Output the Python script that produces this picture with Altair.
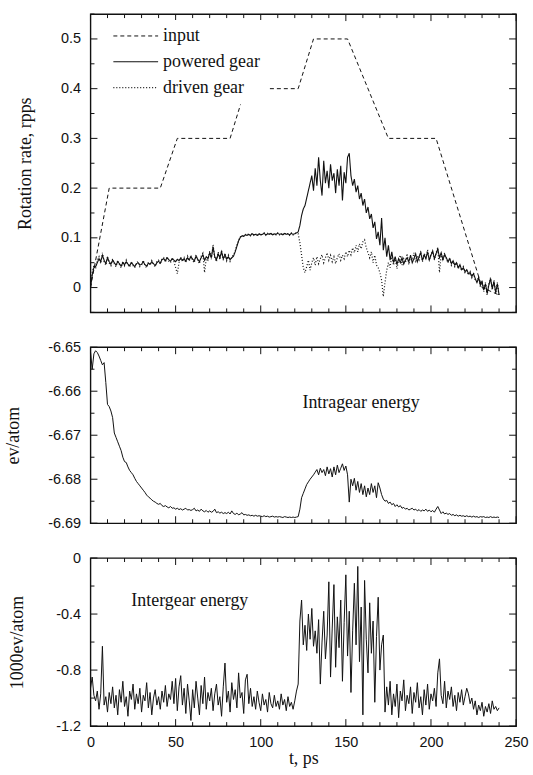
import altair as alt
import pandas as pd

# ---------------- data ----------------
t_ps = list(range(0, 241))

input_t = [0, 11, 41, 51, 82, 91, 122, 131, 151, 175, 203, 230, 240]
input_rate = [0.0, 0.2, 0.2, 0.3, 0.3, 0.4, 0.4, 0.5, 0.5, 0.3, 0.3, 0.0, -0.015]

powered_rate = [
    0.000, 0.025, 0.040, 0.042, 0.050, 0.058, 0.052, 0.065, 0.055, 0.048,
    0.060, 0.052, 0.047, 0.055, 0.050, 0.045, 0.052, 0.048, 0.043, 0.050,
    0.046, 0.052, 0.047, 0.044, 0.050, 0.046, 0.042, 0.048, 0.050, 0.045,
    0.047, 0.052, 0.046, 0.043, 0.049, 0.047, 0.052, 0.048, 0.044, 0.050,
    0.053, 0.049, 0.056, 0.058, 0.054, 0.060, 0.056, 0.053, 0.058, 0.055,
    0.052, 0.057, 0.054, 0.059, 0.055, 0.058, 0.053, 0.060, 0.056, 0.062,
    0.057, 0.054, 0.063, 0.057, 0.052, 0.060, 0.066, 0.055, 0.062, 0.058,
    0.070, 0.060, 0.082, 0.062, 0.056, 0.068, 0.060, 0.072, 0.058, 0.066,
    0.057, 0.062, 0.056, 0.060, 0.063, 0.072, 0.083, 0.094, 0.101, 0.104,
    0.103, 0.106, 0.105, 0.107, 0.105, 0.108, 0.106, 0.107, 0.105, 0.108,
    0.106, 0.107, 0.109, 0.106, 0.108, 0.107, 0.109, 0.106, 0.108, 0.107,
    0.109, 0.107, 0.108, 0.106, 0.109, 0.107, 0.108, 0.106, 0.109, 0.107,
    0.108, 0.110, 0.112, 0.125, 0.145, 0.158, 0.165, 0.180, 0.195, 0.210,
    0.225, 0.195, 0.240, 0.205, 0.262, 0.215, 0.185, 0.255, 0.210, 0.235,
    0.200, 0.248, 0.215, 0.230, 0.190, 0.238, 0.205, 0.245, 0.175, 0.232,
    0.210, 0.262, 0.270, 0.225, 0.205, 0.218, 0.192, 0.205, 0.178, 0.190,
    0.165, 0.178, 0.150, 0.162, 0.138, 0.148, 0.120, 0.132, 0.098, 0.112,
    0.085, 0.140, 0.075, 0.100, 0.062, 0.085, 0.055, 0.072, 0.050, 0.062,
    0.046, 0.058, 0.050, 0.060, 0.047, 0.055, 0.060, 0.052, 0.065, 0.050,
    0.058, 0.068, 0.052, 0.062, 0.070, 0.054, 0.066, 0.058, 0.072, 0.055,
    0.065, 0.074, 0.058, 0.068, 0.078, 0.060, 0.070, 0.056, 0.066, 0.060,
    0.052, 0.058, 0.048, 0.054, 0.045, 0.050, 0.040, 0.046, 0.036, 0.040,
    0.032, 0.036, 0.028, 0.030, 0.022, 0.028, 0.018, 0.010, 0.020, 0.005,
    0.012, -0.005, 0.008, -0.012, 0.005, 0.018, -0.002, 0.012, -0.010, 0.008,
    -0.015,
]

driven_rate = [
    0.000, 0.030, 0.045, 0.038, 0.055, 0.062, 0.048, 0.070, 0.052, 0.045,
    0.063, 0.049, 0.044, 0.058, 0.047, 0.042, 0.055, 0.046, 0.040, 0.053,
    0.044, 0.055, 0.045, 0.041, 0.052, 0.044, 0.040, 0.050, 0.052, 0.042,
    0.045, 0.055, 0.044, 0.040, 0.051, 0.045, 0.054, 0.046, 0.042, 0.052,
    0.055, 0.047, 0.058, 0.060, 0.051, 0.062, 0.053, 0.050, 0.060, 0.052,
    0.040, 0.028, 0.050, 0.061, 0.052, 0.060, 0.050, 0.063, 0.053, 0.065,
    0.054, 0.050, 0.066, 0.054, 0.048, 0.063, 0.069, 0.030, 0.058, 0.055,
    0.073, 0.057, 0.086, 0.059, 0.052, 0.071, 0.056, 0.075, 0.055, 0.069,
    0.054, 0.065, 0.053, 0.062, 0.065, 0.074, 0.085, 0.095, 0.102, 0.105,
    0.104, 0.107, 0.106, 0.108, 0.104, 0.109, 0.105, 0.108, 0.104, 0.109,
    0.105, 0.108, 0.110, 0.105, 0.109, 0.106, 0.110, 0.105, 0.109, 0.106,
    0.110, 0.106, 0.109, 0.105, 0.110, 0.106, 0.109, 0.105, 0.110, 0.106,
    0.109, 0.110, 0.108, 0.090, 0.065, 0.040, 0.030, 0.042, 0.055, 0.035,
    0.050, 0.060, 0.045, 0.062, 0.048, 0.058, 0.066, 0.050, 0.060, 0.070,
    0.055, 0.065, 0.052, 0.062, 0.048, 0.060, 0.068, 0.055, 0.065, 0.058,
    0.072, 0.062, 0.075, 0.066, 0.080, 0.070, 0.085, 0.072, 0.088, 0.078,
    0.092, 0.096, 0.080, 0.070, 0.060, 0.072, 0.050, 0.065, 0.045, 0.040,
    0.030, 0.015, -0.018, 0.010, 0.035, 0.050, 0.040, 0.065, 0.045, 0.060,
    0.038, 0.055, 0.065, 0.045, 0.058, 0.050, 0.068, 0.046, 0.062, 0.055,
    0.070, 0.050, 0.064, 0.056, 0.074, 0.052, 0.068, 0.060, 0.076, 0.055,
    0.068, 0.072, 0.056, 0.070, 0.080, 0.030, 0.068, 0.054, 0.070, 0.058,
    0.050, 0.060, 0.045, 0.052, 0.042, 0.050, 0.038, 0.044, 0.034, 0.042,
    0.030, 0.034, 0.025, 0.032, 0.020, 0.030, 0.015, 0.012, 0.022, 0.002,
    0.014, -0.008, 0.010, -0.015, 0.008, 0.020, -0.005, 0.015, -0.012, 0.010,
    -0.018,
]

intragear_ev = [
    -6.6510, -6.6550, -6.6515, -6.6508, -6.6512, -6.6520, -6.6530, -6.6540, -6.6535, -6.6580,
    -6.6630, -6.6635, -6.6645, -6.6660, -6.6695, -6.6705, -6.6715, -6.6725, -6.6735, -6.6750,
    -6.6760, -6.6762, -6.6772, -6.6780, -6.6785, -6.6790, -6.6798, -6.6805, -6.6810, -6.6815,
    -6.6820, -6.6825, -6.6830, -6.6836, -6.6840, -6.6843, -6.6847, -6.6850, -6.6852, -6.6855,
    -6.6857, -6.6855, -6.6860, -6.6862, -6.6860, -6.6863, -6.6865, -6.6862, -6.6866, -6.6865,
    -6.6868, -6.6866, -6.6869, -6.6867, -6.6870, -6.6868, -6.6866, -6.6870, -6.6869, -6.6871,
    -6.6869, -6.6866, -6.6872, -6.6870, -6.6873, -6.6868, -6.6872, -6.6874, -6.6871, -6.6875,
    -6.6872, -6.6875, -6.6873, -6.6868, -6.6876, -6.6874, -6.6877, -6.6875, -6.6878, -6.6876,
    -6.6878, -6.6875, -6.6879, -6.6872, -6.6878, -6.6880, -6.6877, -6.6881, -6.6879, -6.6876,
    -6.6881, -6.6880, -6.6882, -6.6881, -6.6883, -6.6882, -6.6884, -6.6882, -6.6884, -6.6883,
    -6.6884, -6.6885, -6.6883, -6.6885, -6.6884, -6.6886, -6.6885, -6.6884, -6.6886, -6.6885,
    -6.6886, -6.6885, -6.6886, -6.6887, -6.6885, -6.6886, -6.6887, -6.6886, -6.6887, -6.6886,
    -6.6887, -6.6886, -6.6885, -6.6868, -6.6842, -6.6832, -6.6822, -6.6812, -6.6806, -6.6800,
    -6.6795, -6.6790, -6.6784, -6.6778, -6.6790, -6.6775, -6.6785, -6.6778, -6.6792, -6.6772,
    -6.6788, -6.6776, -6.6795, -6.6772, -6.6790, -6.6768, -6.6785, -6.6775, -6.6765, -6.6780,
    -6.6770, -6.6790, -6.6852, -6.6800, -6.6815, -6.6798, -6.6825, -6.6805, -6.6830, -6.6810,
    -6.6835, -6.6815, -6.6840, -6.6820, -6.6835, -6.6810, -6.6830, -6.6815, -6.6842, -6.6808,
    -6.6820, -6.6835, -6.6845, -6.6850, -6.6848, -6.6855, -6.6852, -6.6858, -6.6855, -6.6862,
    -6.6858, -6.6863, -6.6860, -6.6866, -6.6864, -6.6868, -6.6866, -6.6870, -6.6868, -6.6866,
    -6.6870, -6.6868, -6.6872, -6.6869, -6.6873, -6.6870, -6.6872, -6.6868, -6.6873, -6.6870,
    -6.6874, -6.6871, -6.6875, -6.6868, -6.6862, -6.6870, -6.6878, -6.6874, -6.6879, -6.6877,
    -6.6880, -6.6878, -6.6882, -6.6880, -6.6883, -6.6881, -6.6884, -6.6882, -6.6884, -6.6883,
    -6.6885, -6.6883, -6.6885, -6.6884, -6.6886, -6.6884, -6.6886, -6.6885, -6.6887, -6.6885,
    -6.6886, -6.6885, -6.6887, -6.6886, -6.6887, -6.6885, -6.6887, -6.6886, -6.6887, -6.6886,
    -6.6887,
]

intergear_kev = [
    -0.93, -0.85, -0.98, -1.02, -0.95, -1.08, -0.97, -0.63, -1.05, -0.99,
    -1.10, -0.96, -1.04, -0.92, -1.07, -0.98, -1.12, -0.94, -1.03, -0.88,
    -1.06, -0.99, -1.13, -0.95, -1.01, -0.90, -1.08, -0.97, -1.04, -0.93,
    -1.10, -0.98, -1.02, -0.89, -1.07, -0.96, -1.12, -1.00, -0.94, -1.05,
    -0.99, -1.08, -0.95, -1.03, -0.91, -1.06, -0.97, -1.01, -0.88, -1.04,
    -0.86, -1.09, -0.92, -0.84, -1.05, -0.93, -1.11, -0.90, -1.02, -1.16,
    -0.94, -1.07, -0.88, -1.00, -1.12, -0.91, -1.04, -0.85, -1.08, -0.96,
    -1.02, -0.93, -1.09, -0.97, -0.90, -1.05, -0.99, -1.13, -0.92, -0.75,
    -1.03, -0.95, -1.10, -0.89, -1.01, -0.94, -1.07, -0.82, -1.00, -0.96,
    -1.11, -0.87, -0.83, -1.04, -0.93, -1.06, -0.99, -1.08, -0.95, -1.03,
    -1.09, -0.97, -1.05, -1.01, -1.10, -0.96, -1.04, -1.07, -0.98, -1.06,
    -1.02, -1.08, -0.97, -1.05, -1.01, -1.09, -0.99, -1.06, -1.03, -1.08,
    -1.02, -0.95, -0.90, -0.45, -0.30, -0.62, -0.48, -0.66, -0.40, -0.58,
    -0.36, -0.63, -0.52, -0.68, -0.44, -0.90, -0.60, -0.38, -0.72, -0.55,
    -0.17, -0.85, -0.50, -0.19, -0.78, -0.42, -0.64, -0.30, -0.88, -0.46,
    -0.12, -0.70, -0.38, -0.96, -0.52, -0.18, -0.62, -0.06, -0.74, -0.35,
    -1.12, -0.16, -0.58, -0.82, -0.32, -0.68, -0.45, -1.03, -0.56, -0.28,
    -0.80, -0.62, -0.55, -1.10, -0.92, -1.05, -0.88, -1.12, -0.97, -1.06,
    -0.90, -1.14, -0.95, -1.02, -0.87, -1.09, -0.98, -1.04, -0.92, -1.11,
    -0.96, -1.03, -0.89, -1.07, -0.99, -1.12, -0.94, -1.05, -0.90, -1.08,
    -0.97, -1.02, -0.93, -1.06, -0.82, -0.72, -0.98, -1.04, -0.88, -1.07,
    -0.95, -1.01, -0.92, -1.06, -0.98, -1.09, -0.96, -1.03, -0.94, -1.05,
    -0.99, -0.93, -0.97, -1.04, -1.00, -1.08, -1.02, -1.12, -1.05, -1.09,
    -1.03, -1.13, -1.06, -1.10, -1.04, -1.11, -1.02, -1.08, -1.06, -1.09,
    -1.07,
]

series_names = ["input", "powered gear", "driven gear"]
x_major = [0, 50, 100, 150, 200, 250]
x_minor = [10, 20, 30, 40, 60, 70, 80, 90, 110, 120, 130, 140, 160, 170, 180, 190, 210, 220, 230, 240]
rate_major = [0, 0.1, 0.2, 0.3, 0.4, 0.5]
rate_minor = [-0.05, 0.05, 0.15, 0.25, 0.35, 0.45, 0.55]
intra_major = [-6.69, -6.68, -6.67, -6.66, -6.65]
intra_minor = [-6.685, -6.675, -6.665, -6.655]
inter_major = [-1.2, -0.8, -0.4, 0]
inter_minor = [-1.0, -0.6, -0.2]

# ---------------- style ----------------
W = 428
H1, H2, H3 = 300, 177, 169
SERIF = "Liberation Serif"
SANS = "Liberation Sans"
INK = "#111111"
LABEL_SIZE = 14.5
TITLE_SIZE = 18

xscale = alt.Scale(domain=[0, 250], nice=False, zero=False)


def yaxis(values, title, title_pad):
    return alt.Axis(values=values, title=title, ticks=False, domain=False, grid=False,
                    labelFont=SANS, labelFontSize=LABEL_SIZE, labelColor=INK, labelPadding=10,
                    labelExpr="'' + datum.value",
                    titleFont=SERIF, titleFontSize=TITLE_SIZE, titleFontWeight="normal",
                    titleColor=INK, titlePadding=title_pad)


def xenc(field, show_axis):
    # layers that share an axis must not switch it off
    if show_axis:
        return alt.X(field, scale=xscale)
    return alt.X(field, scale=xscale, axis=None)


def tick_layers(yscale, ymaj, ymin, h, show_x_axis):
    layers = []
    for vals, L in ((x_major, 7), (x_minor, 4)):
        base = alt.Chart(pd.DataFrame({"t": vals})).mark_rule(color=INK, strokeWidth=1)
        xe = xenc("t:Q", show_x_axis)
        layers.append(base.encode(x=xe, y=alt.value(0), y2=alt.value(L)))
        layers.append(base.encode(x=xe, y=alt.value(h), y2=alt.value(h - L)))
    for vals, L in ((ymaj, 7), (ymin, 4)):
        base = alt.Chart(pd.DataFrame({"ty": vals})).mark_rule(color=INK, strokeWidth=1)
        ye = alt.Y("ty:Q", scale=yscale)
        layers.append(base.encode(y=ye, x=alt.value(0), x2=alt.value(L)))
        layers.append(base.encode(y=ye, x=alt.value(W), x2=alt.value(W - L)))
    return layers


# ---------------- panel 1 : rotation rates ----------------
rot = pd.concat([
    pd.DataFrame({"t": input_t, "rate": input_rate, "series": "input"}),
    pd.DataFrame({"t": t_ps, "rate": powered_rate, "series": "powered gear"}),
    pd.DataFrame({"t": t_ps, "rate": driven_rate, "series": "driven gear"}),
], ignore_index=True)

yscale1 = alt.Scale(domain=[-0.05, 0.55], nice=False, zero=False)
lines1 = alt.Chart(rot).mark_line(color=INK, clip=True).encode(
    x=alt.X("t:Q", scale=xscale, axis=None),
    y=alt.Y("rate:Q", scale=yscale1, axis=yaxis(rate_major, "Rotation rate, rpps", 26)),
    strokeDash=alt.StrokeDash(
        "series:N",
        scale=alt.Scale(domain=series_names, range=[[4, 3], [1, 0], [1, 2]]),
        legend=alt.Legend(title=None, orient="none", legendX=14, legendY=6,
                          symbolType="stroke", symbolSize=2025, symbolStrokeColor=INK,
                          symbolStrokeWidth=1, labelFont=SERIF, labelFontSize=18,
                          labelColor=INK, labelOffset=4, clipHeight=16, rowPadding=8,
                          fillColor="white", padding=8),
    ),
    strokeWidth=alt.StrokeWidth("series:N",
                                scale=alt.Scale(domain=series_names, range=[1, 1.2, 1]),
                                legend=None),
    order=alt.Order("t:Q"),
)
panel1 = alt.layer(lines1, *tick_layers(yscale1, rate_major, rate_minor, H1, False)).properties(width=W, height=H1)

# ---------------- panel 2 : intragear energy ----------------
intra = pd.DataFrame({"t": t_ps, "ev": intragear_ev})
yscale2 = alt.Scale(domain=[-6.69, -6.65], nice=False, zero=False)
lines2 = alt.Chart(intra).mark_line(color=INK, strokeWidth=1, clip=True).encode(
    x=alt.X("t:Q", scale=xscale, axis=None),
    y=alt.Y("ev:Q", scale=yscale2, axis=yaxis(intra_major, "ev/atom", 25)),
)
label2 = alt.Chart(pd.DataFrame({"t": [124.5], "ev": [-6.6627], "txt": ["Intragear  energy"]})).mark_text(
    align="left", baseline="middle", font=SERIF, fontSize=18, color=INK
).encode(x=xenc("t:Q", False), y=alt.Y("ev:Q", scale=yscale2), text="txt:N")
panel2 = alt.layer(lines2, label2, *tick_layers(yscale2, intra_major, intra_minor, H2, False)).properties(width=W, height=H2)

# ---------------- panel 3 : intergear energy ----------------
inter = pd.DataFrame({"t": t_ps, "e": intergear_kev})
yscale3 = alt.Scale(domain=[-1.2, 0], nice=False, zero=False)
lines3 = alt.Chart(inter).mark_line(color=INK, strokeWidth=1, clip=True).encode(
    x=alt.X("t:Q", scale=xscale,
            axis=alt.Axis(values=x_major, title="t, ps", ticks=False, domain=False, grid=False,
                          labelFont=SANS, labelFontSize=LABEL_SIZE, labelColor=INK, labelPadding=10,
                          labelFlush=False,
                          titleFont=SERIF, titleFontSize=TITLE_SIZE, titleFontWeight="normal",
                          titleColor=INK, titlePadding=0)),
    y=alt.Y("e:Q", scale=yscale3, axis=yaxis(inter_major, "1000ev/atom", 29)),
)
label3 = alt.Chart(pd.DataFrame({"t": [24], "e": [-0.306], "txt": ["Intergear  energy"]})).mark_text(
    align="left", baseline="middle", font=SERIF, fontSize=18, color=INK
).encode(x=xenc("t:Q", True), y=alt.Y("e:Q", scale=yscale3), text="txt:N")
panel3 = alt.layer(lines3, label3, *tick_layers(yscale3, inter_major, inter_minor, H3, True)).properties(width=W, height=H3)

chart = alt.vconcat(panel1, panel2, panel3, spacing=35, bounds="flush").properties(
    padding={"left": 4, "top": 10, "right": 4, "bottom": 0},
    background="white",
).configure_view(stroke=INK, strokeWidth=1.4)

chart.save("out.html", embed_options={"renderer": "svg", "actions": False})
